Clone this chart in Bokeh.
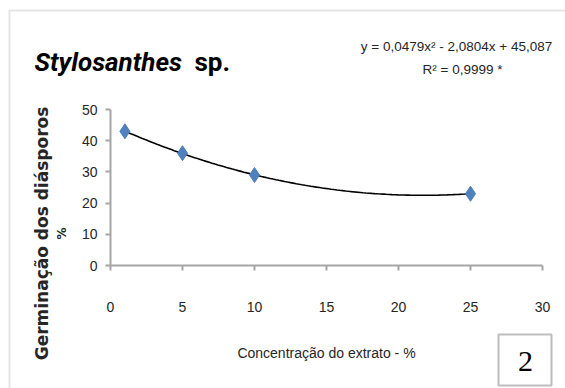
import numpy as np
from bokeh.plotting import figure
from bokeh.models import Label, BoxAnnotation, FixedTicker, Range1d
from bokeh.embed import file_html
from bokeh.resources import INLINE

# ---- data ----
concentracao = [1, 5, 10, 25]
germinacao = [43, 36, 29, 23]
x_ticks = [0, 5, 10, 15, 20, 25, 30]
y_ticks = [0, 10, 20, 30, 40, 50]
coef_a, coef_b, coef_c = 0.0479, -2.0804, 45.087
titulo = "Stylosanthes"
titulo_sp = "sp."
eq_text = "y = 0,0479x² - 2,0804x + 45,087"
r2_text = "R² = 0,9999 *"
x_label = "Concentração do extrato - %"
y_label = "Germinação dos diásporos"
y_label2 = "%"
fig_num = "2"

W, H = 565, 388
# plot area in pixels: x 0..30 -> 110..542, y 0..50 -> 265..109
px_x0, px_per_x = 110.0, 14.4
px_y0, px_per_y = 265.0, 3.12
x_rng = Range1d(-px_x0 / px_per_x, (W - px_x0) / px_per_x)
y_rng = Range1d(-(H - px_y0) / px_per_y, px_y0 / px_per_y)

p = figure(width=W, height=H, x_range=x_rng, y_range=y_rng,
           output_backend="svg", toolbar_location=None, min_border=0)
p.outline_line_color = None
p.xgrid.visible = False
p.ygrid.visible = False
p.background_fill_color = "white"
p.border_fill_color = "white"

for ax in (p.xaxis[0], p.yaxis[0]):
    ax.fixed_location = 0
    ax.axis_line_color = "#a6a6a6"
    ax.axis_line_width = 2
    ax.major_tick_line_color = "#a6a6a6"
    ax.major_tick_line_width = 2
    ax.major_tick_out = 5
    ax.major_tick_in = 0
    ax.minor_tick_line_color = None
    ax.major_label_text_font = "Liberation Sans"
    ax.major_label_text_font_size = "14px"
    ax.major_label_text_color = "#262626"

p.xaxis[0].ticker = FixedTicker(ticks=x_ticks)
p.yaxis[0].ticker = FixedTicker(ticks=y_ticks)
p.xaxis[0].bounds = (x_ticks[0], x_ticks[-1])
p.yaxis[0].bounds = (y_ticks[0], y_ticks[-1])
p.xaxis[0].major_label_standoff = 31
p.yaxis[0].major_label_standoff = 8

# trend line from the displayed equation
xs = np.linspace(concentracao[0], concentracao[-1], 120)
ys = coef_a * xs ** 2 + coef_b * xs + coef_c
p.line(xs, ys, line_color="black", line_width=1.6)

p.scatter(concentracao, germinacao, marker="diamond", size=15,
          fill_color="#4f81bd", line_color="#4a7ebb", line_width=1)

def lab(px, py, text, **kw):
    l = Label(x=px, y=H - py, x_units="screen", y_units="screen", text=text, **kw)
    p.add_layout(l)
    return l

def box(l, r, t, b, **kw):
    p.add_layout(BoxAnnotation(left=l, right=r, top=H - t, bottom=H - b,
                               left_units="screen", right_units="screen",
                               top_units="screen", bottom_units="screen",
                               fill_alpha=0, **kw))

# outer frame
box(9, 620, 10, 440, line_color="#a6a6a6", line_width=2)

lab(34, 61, titulo, text_font="Roboto", text_font_size="26px",
    text_font_style="bold italic", text_color="black", text_baseline="alphabetic")
lab(194, 61, titulo_sp, text_font="Roboto", text_font_size="26px",
    text_font_style="bold", text_color="black", text_baseline="alphabetic")

lab(456, 46, eq_text, text_font="Liberation Sans", text_font_size="13.5px",
    text_color="#262626", text_align="center", text_baseline="middle")
lab(462, 69, r2_text, text_font="Liberation Sans", text_font_size="13.5px",
    text_color="#262626", text_align="center", text_baseline="middle")

lab(326, 352, x_label, text_font="Liberation Sans", text_font_size="14px",
    text_color="#262626", text_align="center", text_baseline="middle")

lab(41, 233, y_label, angle=np.pi / 2, text_font="DejaVu Sans", text_font_size="17px",
    text_font_style="bold", text_color="#262626", text_align="center", text_baseline="middle")
lab(61, 233, y_label2, angle=np.pi / 2, text_font="DejaVu Sans", text_font_size="12px",
    text_font_style="bold", text_color="#262626", text_align="center", text_baseline="middle")

# figure number box
box(498, 551, 334, 385, line_color="#262626", line_width=2)
lab(525, 361, fig_num, text_font="Liberation Serif", text_font_size="30px",
    text_color="black", text_align="center", text_baseline="middle")

open("out.html", "w").write(file_html(p, INLINE))
